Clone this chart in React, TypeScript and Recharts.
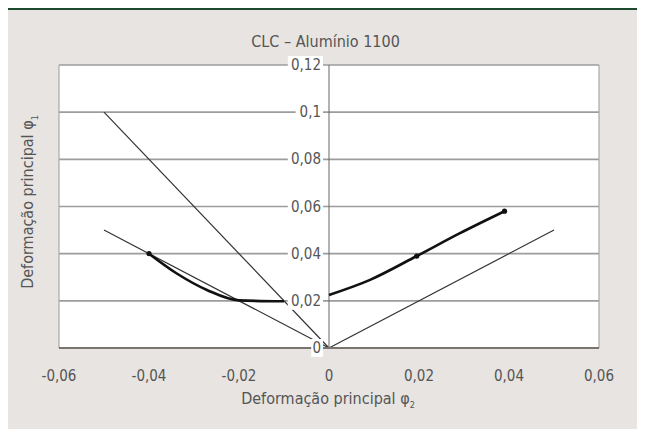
import React from "react";
import {
    ComposedChart,
    Line,
    Scatter,
    XAxis,
    YAxis,
    CartesianGrid,
    ReferenceLine,
} from "recharts";

// thin reference lines
const lineSteep = [
    { x: -0.05, y: 0.1 },
    { x: 0, y: 0 },
];
const lineLeft = [
    { x: -0.05, y: 0.05 },
    { x: 0, y: 0 },
];
const lineRight = [
    { x: 0, y: 0 },
    { x: 0.05, y: 0.05 },
];

// forming limit curve (two branches)
const clcLeft = [
    { x: -0.04, y: 0.04 },
    { x: -0.034, y: 0.0318 },
    { x: -0.027, y: 0.0245 },
    { x: -0.02, y: 0.0202 },
    { x: -0.01, y: 0.0198 },
];
const clcRight = [
    { x: 0, y: 0.0225 },
    { x: 0.009, y: 0.0288 },
    { x: 0.0195, y: 0.039 },
    { x: 0.029, y: 0.0486 },
    { x: 0.039, y: 0.058 },
];
const clcMarks = [
    { x: -0.04, y: 0.04 },
    { x: 0.0195, y: 0.039 },
    { x: 0.039, y: 0.058 },
];

const xTicks = [-0.06, -0.04, -0.02, 0, 0.02, 0.04, 0.06];
const yTicks = [0, 0.02, 0.04, 0.06, 0.08, 0.1, 0.12];
const yTickLabels = yTicks.map((v) => ({ x: 0, y: v }));

const FONT = "'DejaVu Sans Condensed', 'Liberation Sans Narrow', sans-serif";
const TEXT = "#555";

const fmt = (v: number) => (v === 0 ? "0" : String(v).replace(".", ","));

const YLabel = (props: any) => {
    const { cx, cy, payload } = props;
    const s = fmt(payload.y);
    const w = s.length * 7.8 + 2;
    return (
        <g>
            <rect x={cx - 8 - w} y={cy - 9} width={w + 2} height={18} fill="#fff" />
            <text
                x={cx - 8}
                y={cy}
                textAnchor="end"
                dominantBaseline="central"
                fontFamily={FONT}
                fontSize={15}
                fill={TEXT}
            >
                {s}
            </text>
        </g>
    );
};

const Mark = (props: any) => {
    const { cx, cy } = props;
    return <circle cx={cx} cy={cy} r={2.6} fill="#111" />;
};

const App: React.FC = () => {
    return (
        <div
            style={{
                position: "relative",
                margin: -8,
                width: 645,
                height: 437,
                overflow: "hidden",
                background: "linear-gradient(180deg, #b9b9b9 0%, #d0d0d0 3%, #a8a8a8 100%)",
            }}
        >
            <div
                style={{
                    position: "absolute",
                    left: 5,
                    top: 7,
                    width: 660,
                    height: 450,
                    borderLeft: "3px solid #1d4a2f",
                    borderTop: "3px solid #1d4a2f",
                    background: "#e7e4e1",
                }}
            />
            <div
                style={{
                    position: "absolute",
                    left: 0,
                    top: 32,
                    width: 651,
                    textAlign: "center",
                    fontFamily: FONT,
                    fontSize: 16,
                    color: TEXT,
                }}
            >
                CLC – Alumínio 1100
            </div>
            <div
                style={{
                    position: "absolute",
                    left: 0,
                    top: 389,
                    width: 656,
                    textAlign: "center",
                    fontFamily: FONT,
                    fontSize: 16,
                    color: TEXT,
                }}
            >
                Deformação principal φ<sub style={{ fontSize: 9 }}>2</sub>
            </div>
            <div
                style={{
                    position: "absolute",
                    left: 29,
                    top: 202,
                    transform: "translate(-50%, -50%) rotate(-90deg)",
                    whiteSpace: "nowrap",
                    fontFamily: FONT,
                    fontSize: 16,
                    color: TEXT,
                }}
            >
                Deformação principal φ<sub style={{ fontSize: 9 }}>1</sub>
            </div>
            <div style={{ position: "absolute", left: 0, top: 0 }}>
                <ComposedChart
                    width={645}
                    height={437}
                    margin={{ top: 65, right: 46, bottom: 59, left: 59 }}
                >
                    <CartesianGrid
                        vertical={false}
                        horizontalValues={yTicks}
                        stroke="#9c9c9c"
                        strokeWidth={1.6}
                        fill="#fff"
                        fillOpacity={1}
                    />
                    <XAxis
                        type="number"
                        dataKey="x"
                        domain={[-0.06, 0.06]}
                        ticks={xTicks}
                        tickFormatter={fmt}
                        height={30}
                        tickLine={false}
                        tickSize={6}
                        tickMargin={16}
                        axisLine={{ stroke: "#7a746e", strokeWidth: 2 }}
                        tick={{ fill: TEXT, fontSize: 15, fontFamily: FONT }}
                    />
                    <YAxis
                        type="number"
                        dataKey="y"
                        domain={[0, 0.12]}
                        ticks={yTicks}
                        hide
                    />
                    <ReferenceLine x={-0.06} stroke="#a8a8a8" strokeWidth={1.2} />
                    <ReferenceLine x={0.06} stroke="#a8a8a8" strokeWidth={1.2} />
                    <ReferenceLine x={0} stroke="#666" strokeWidth={1} />
                    <Line data={lineSteep} dataKey="y" type="linear" stroke="#333" strokeWidth={1.2} dot={false} isAnimationActive={false} />
                    <Line data={lineLeft} dataKey="y" type="linear" stroke="#333" strokeWidth={1.2} dot={false} isAnimationActive={false} />
                    <Line data={lineRight} dataKey="y" type="linear" stroke="#333" strokeWidth={1.2} dot={false} isAnimationActive={false} />
                    <Line data={clcLeft} dataKey="y" type="monotone" stroke="#111" strokeWidth={2.6} dot={false} isAnimationActive={false} />
                    <Line data={clcRight} dataKey="y" type="monotone" stroke="#111" strokeWidth={2.6} dot={false} isAnimationActive={false} />
                    <Scatter data={clcMarks} dataKey="y" shape={Mark} isAnimationActive={false} />
                    <Scatter data={yTickLabels} dataKey="y" shape={YLabel} isAnimationActive={false} />
                </ComposedChart>
            </div>
        </div>
    );
};

export default App;
